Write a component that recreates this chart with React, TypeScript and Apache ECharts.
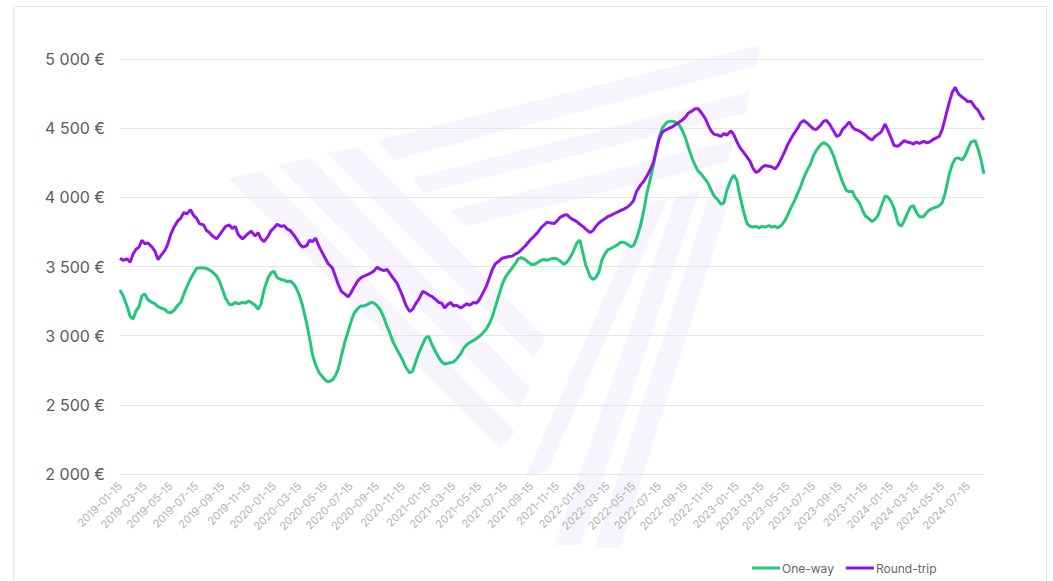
import React, { useEffect, useRef } from "react";
import * as echarts from "echarts";

// ---- data ----
const startDate = "2019-01-15";
const endDate = "2024-08-22";
const sampleDays = [1, 8, 15, 22]; // four readings per month
const seriesNames = ["One-way", "Round-trip"];
const yMin = 2000;
const yMax = 5000;
const yStep = 500;

const oneWay2019 = [
  null, null, 3330, 3290,
  3210, 3140, 3120, 3180,
  3210, 3290, 3300, 3260,
  3240, 3230, 3210, 3200,
  3190, 3170, 3165, 3180,
  3220, 3240, 3300, 3350,
  3410, 3450, 3485, 3490,
  3490, 3485, 3475, 3460,
  3430, 3390, 3330, 3270,
  3225, 3225, 3240, 3230,
  3240, 3235, 3250, 3240,
  3220, 3190, 3230, 3330,
];
const oneWay2020 = [
  3420, 3455, 3465, 3420,
  3405, 3400, 3390, 3395,
  3375, 3340, 3290, 3220,
  3090, 2980, 2860, 2790,
  2730, 2705, 2680, 2665,
  2680, 2710, 2760, 2850,
  2960, 3030, 3100, 3160,
  3200, 3215, 3215, 3225,
  3240, 3235, 3215, 3190,
  3130, 3070, 3020, 2960,
  2900, 2860, 2820, 2770,
  2730, 2745, 2810, 2870,
];
const oneWay2021 = [
  2940, 2985, 2995, 2940,
  2880, 2840, 2810, 2795,
  2800, 2805, 2810, 2830,
  2870, 2910, 2935, 2950,
  2965, 2980, 2995, 3015,
  3050, 3090, 3140, 3210,
  3300, 3370, 3420, 3450,
  3490, 3520, 3555, 3565,
  3550, 3530, 3515, 3515,
  3530, 3545, 3550, 3545,
  3555, 3560, 3555, 3540,
  3515, 3530, 3560, 3600,
];
const oneWay2022 = [
  3670, 3690, 3600, 3510,
  3430, 3405, 3420, 3460,
  3545, 3590, 3620, 3630,
  3645, 3660, 3675, 3675,
  3660, 3645, 3650, 3700,
  3800, 3900, 4020, 4110,
  4230, 4340, 4440, 4500,
  4540, 4550, 4550, 4545,
  4520, 4480, 4430, 4360,
  4280, 4230, 4190, 4170,
  4130, 4100, 4050, 4010,
  3980, 3950, 3960, 4050,
];
const oneWay2023 = [
  4130, 4160, 4120, 4010,
  3880, 3810, 3790, 3785,
  3790, 3780, 3790, 3785,
  3795, 3785, 3790, 3780,
  3800, 3830, 3870, 3920,
  3980, 4030, 4080, 4140,
  4200, 4240, 4300, 4340,
  4380, 4395, 4385, 4365,
  4300, 4230, 4170, 4110,
  4050, 4040, 4045, 4000,
  3960, 3910, 3865, 3850,
  3825, 3840, 3870, 3930,
];
const oneWay2024 = [
  4010, 4000, 3970, 3920,
  3810, 3790, 3830, 3880,
  3930, 3940, 3890, 3860,
  3860, 3890, 3910, 3920,
  3930, 3940, 3960, 4030,
  4170, 4240, 4280, 4285,
  4270, 4300, 4350, 4400,
  4410, 4350, 4270, 4170,
];

const roundTrip2019 = [
  null, null, 3560, 3545,
  3555, 3530, 3590, 3625,
  3640, 3690, 3665, 3670,
  3640, 3610, 3550, 3580,
  3615, 3660, 3730, 3780,
  3830, 3850, 3890, 3880,
  3910, 3870, 3850, 3810,
  3800, 3760, 3745, 3720,
  3700, 3730, 3760, 3790,
  3800, 3775, 3790, 3730,
  3700, 3720, 3740, 3755,
  3720, 3745, 3700, 3680,
];
const roundTrip2020 = [
  3720, 3760, 3780, 3805,
  3790, 3795, 3770, 3760,
  3730, 3700, 3665, 3640,
  3650, 3690, 3680, 3705,
  3640, 3600, 3560, 3520,
  3490, 3430, 3370, 3320,
  3300, 3280, 3310, 3350,
  3400, 3420, 3430, 3440,
  3455, 3470, 3495, 3480,
  3470, 3480, 3450, 3420,
  3380, 3330, 3280, 3220,
  3175, 3190, 3230, 3260,
];
const roundTrip2021 = [
  3320, 3310, 3295, 3285,
  3260, 3240, 3235, 3200,
  3225, 3240, 3215, 3220,
  3200, 3215, 3230, 3220,
  3240, 3235, 3260, 3300,
  3360, 3420, 3480, 3520,
  3540, 3560, 3565, 3570,
  3575, 3590, 3600, 3620,
  3650, 3675, 3700, 3720,
  3750, 3780, 3800, 3820,
  3815, 3810, 3830, 3855,
  3870, 3875, 3855, 3840,
];
const roundTrip2022 = [
  3825, 3805, 3790, 3770,
  3745, 3760, 3790, 3815,
  3830, 3845, 3860, 3870,
  3885, 3895, 3905, 3915,
  3930, 3950, 3975, 4040,
  4090, 4115, 4150, 4190,
  4250, 4340, 4420, 4470,
  4490, 4500, 4510, 4525,
  4545, 4560, 4580, 4610,
  4625, 4640, 4640, 4615,
  4570, 4520, 4480, 4455,
  4450, 4440, 4460, 4450,
];
const roundTrip2023 = [
  4480, 4450, 4400, 4360,
  4320, 4290, 4260, 4210,
  4180, 4190, 4215, 4230,
  4225, 4220, 4205, 4230,
  4285, 4330, 4380, 4420,
  4470, 4500, 4540, 4555,
  4535, 4515, 4495, 4490,
  4520, 4550, 4555, 4530,
  4480, 4440, 4450, 4490,
  4520, 4545, 4510, 4490,
  4480, 4465, 4450, 4430,
  4415, 4440, 4455, 4470,
];
const roundTrip2024 = [
  4530, 4480, 4430, 4375,
  4370, 4390, 4410, 4400,
  4395, 4385, 4400, 4390,
  4405, 4395, 4400, 4415,
  4430, 4440, 4490, 4570,
  4690, 4760, 4795, 4750,
  4725, 4710, 4690, 4695,
  4650, 4630, 4590, 4560,
];

const years = [2019, 2020, 2021, 2022, 2023, 2024];
const oneWayByYear = [oneWay2019, oneWay2020, oneWay2021, oneWay2022, oneWay2023, oneWay2024];
const roundTripByYear = [roundTrip2019, roundTrip2020, roundTrip2021, roundTrip2022, roundTrip2023, roundTrip2024];

// ---- helpers ----
const DAY = 86400000;
const pad = (n: number) => String(n).padStart(2, "0");
const parseUTC = (s: string) => {
  const [y, m, d] = s.split("-").map(Number);
  return Date.UTC(y, m - 1, d);
};
const fmtDate = (t: number) => {
  const d = new Date(t);
  return `${d.getUTCFullYear()}-${pad(d.getUTCMonth() + 1)}-${pad(d.getUTCDate())}`;
};

function buildCategories(): string[] {
  const out: string[] = [];
  const s = parseUTC(startDate);
  const e = parseUTC(endDate);
  for (let t = s; t <= e; t += DAY) out.push(fmtDate(t));
  return out;
}

function buildSeries(byYear: (number | null)[][], count: number) {
  const data: (number | null)[] = new Array(count).fill(null);
  const s = parseUTC(startDate);
  byYear.forEach((arr, yi) => {
    arr.forEach((v, i) => {
      if (v === null) return;
      const month = Math.floor(i / sampleDays.length);
      const day = sampleDays[i % sampleDays.length];
      const idx = Math.round((Date.UTC(years[yi], month, day) - s) / DAY);
      if (idx >= 0 && idx < count) data[idx] = v;
    });
  });
  return data;
}

const fmtEuro = (v: number) =>
  String(Math.round(v)).replace(/\B(?=(\d{3})+(?!\d))/g, " ") + " €";

const WM = "#f8f4fe";
const watermark = [
  // left arm
  [[228, 178], [262, 171], [515, 432], [500, 448]],
  [[278, 165], [311, 158], [530, 388], [518, 408]],
  [[326, 153], [358, 147], [545, 338], [534, 358]],
  // right arm
  [[525, 478], [548, 470], [668, 198], [645, 205]],
  [[555, 545], [580, 545], [700, 190], [676, 197]],
  [[595, 548], [620, 548], [735, 182], [712, 188]],
  // top bars
  [[378, 140], [760, 45], [756, 66], [393, 160]],
  [[413, 178], [750, 92], [745, 113], [424, 193]],
  [[450, 210], [735, 140], [728, 162], [466, 226]],
];

export default function App() {
  const ref = useRef<HTMLDivElement>(null);
  useEffect(() => {
    if (!ref.current) return;
    const chart = echarts.init(ref.current, undefined, { renderer: "svg" });
    const categories = buildCategories();
    const oneWay = buildSeries(oneWayByYear, categories.length);
    const roundTrip = buildSeries(roundTripByYear, categories.length);

    const graphics: any[] = [
      {
        type: "rect",
        silent: true,
        z: 0,
        shape: { x: 13.5, y: 6.5, width: 1033, height: 600 },
        style: { fill: "none", stroke: "#e4e4e4", lineWidth: 1 },
      },
      ...watermark.map((pts) => ({
        type: "polygon",
        silent: true,
        z: 0,
        shape: { points: pts },
        style: { fill: WM },
      })),
    ];

    chart.setOption({
      animation: false,
      backgroundColor: "#ffffff",
      textStyle: { fontFamily: "Inter, 'Noto Sans', sans-serif" },
      graphic: graphics,
      grid: { left: 120, right: 69, top: 59, bottom: 107, containLabel: false },
      legend: {
        data: seriesNames,
        left: 747,
        top: 557,
        icon: "rect",
        itemWidth: 28,
        itemHeight: 3,
        itemGap: 12,
        textStyle: { color: "#666", fontSize: 12, fontFamily: "Inter, sans-serif", padding: [0, 0, 0, -3] },
      },
      xAxis: {
        type: "category",
        data: categories,
        boundaryGap: false,
        axisLine: { show: false },
        axisTick: { show: false },
        splitLine: { show: false },
        axisLabel: {
          rotate: 45,
          margin: 10,
          color: "#b3b3b3",
          fontSize: 11,
          fontFamily: "Inter, sans-serif",
          interval: (_i: number, v: string) => {
            const parts = v.split("-");
            return parts[2] === "15" && Number(parts[1]) % 2 === 1;
          },
        },
      },
      yAxis: {
        type: "value",
        min: yMin,
        max: yMax,
        interval: yStep,
        axisLine: { show: false },
        axisTick: { show: false },
        splitLine: { lineStyle: { color: "#e6e6e6", width: 1 } },
        axisLabel: {
          color: "#5c5c5c",
          fontSize: 16,
          margin: 15,
          fontFamily: "Inter, sans-serif",
          formatter: (v: number) => fmtEuro(v),
        },
      },
      series: [
        {
          name: seriesNames[0],
          type: "line",
          data: oneWay,
          connectNulls: true,
          showSymbol: false,
          symbol: "none",
          z: 3,
          lineStyle: { color: "#22c77a", width: 3 },
          itemStyle: { color: "#22c77a" },
        },
        {
          name: seriesNames[1],
          type: "line",
          data: roundTrip,
          connectNulls: true,
          showSymbol: false,
          symbol: "none",
          z: 4,
          lineStyle: { color: "#9413e6", width: 3 },
          itemStyle: { color: "#9413e6" },
        },
      ],
    });
    return () => chart.dispose();
  }, []);

  return (
    <div
      ref={ref}
      style={{ position: "fixed", left: 0, top: 0, width: 1053, height: 581, background: "#fff" }}
    />
  );
}
